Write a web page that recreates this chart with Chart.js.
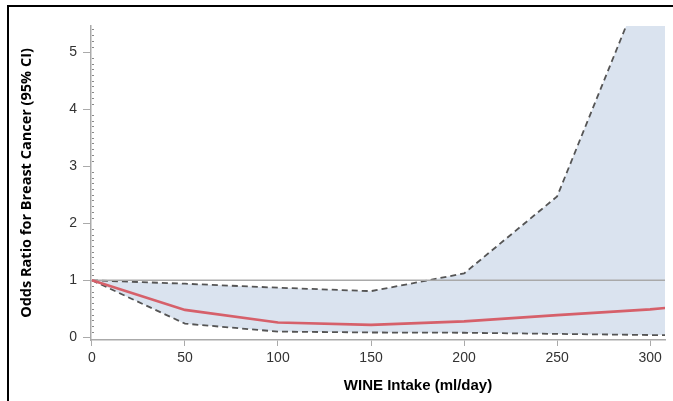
<!DOCTYPE html>
<html>
<head>
<meta charset="utf-8">
<script src="https://cdn.jsdelivr.net/npm/chart.js@4/dist/chart.umd.min.js"></script>
<style>
    html, body { margin: 0; padding: 0; background: #fff; }
    #wrap { position: relative; width: 673px; height: 401px; }
    #frame { position: absolute; left: 7px; top: 5px; right: 0; bottom: 0; border-top: 2px solid #000; border-left: 2px solid #000; pointer-events: none; }
    #xTitle { position: absolute; left: 318px; width: 200px; top: 376px; text-align: center; font: bold 15px "Liberation Sans", Arial, sans-serif; color: #000; }
</style>
</head>
<body>
<div id="wrap">
    <canvas id="chart" width="673" height="401"></canvas>
    <div id="frame"></div>
    <div id="xTitle">WINE Intake (ml/day)</div>
</div>
<script>
// wine intake (ml/day) and estimates
const wine = [0, 50, 100, 150, 200, 250, 300, 310];
const oddsRatio = [1, 0.48, 0.26, 0.22, 0.28, 0.39, 0.49, 0.52];
const lowerCI = [1, 0.24, 0.10, 0.085, 0.08, 0.06, 0.04, 0.04];
const upperCI = [1, 0.94, 0.87, 0.81, 1.12, 2.47, 6.5, 7.3];
const reference = [1, 1, 1, 1, 1, 1, 1, 1];

const xTicks = [0, 50, 100, 150, 200, 250, 300];
const yTicks = [0, 1, 2, 3, 4, 5];

const pts = arr => arr.map((v, i) => ({ x: wine[i], y: v }));

// small inner ticks every 0.1 on the y axis
const minorTicks = {
    id: 'minorTicks',
    afterDraw(chart) {
        const ctx = chart.ctx;
        const y = chart.scales.y;
        const left = chart.chartArea.left;
        ctx.save();
        ctx.strokeStyle = '#888';
        ctx.lineWidth = 1;
        for (let i = 0; i <= 54; i++) {
            if (i % 10 === 0) continue;
            const py = Math.round(y.getPixelForValue(i / 10)) + 0.5;
            ctx.beginPath();
            ctx.moveTo(left + 1, py);
            ctx.lineTo(left + 3, py);
            ctx.stroke();
        }
        ctx.restore();
    }
};

new Chart(document.getElementById('chart'), {
    type: 'line',
    data: {
        datasets: [
            {
                label: 'Upper 95% CI',
                data: pts(upperCI),
                borderColor: '#555',
                borderWidth: 1.8,
                borderDash: [6, 4],
                backgroundColor: '#dae3ef',
                fill: '+1',
                pointRadius: 0,
                order: 3
            },
            {
                label: 'Lower 95% CI',
                data: pts(lowerCI),
                borderColor: '#555',
                borderWidth: 1.8,
                borderDash: [6, 4],
                fill: false,
                pointRadius: 0,
                order: 3
            },
            {
                label: 'Reference',
                data: pts(reference),
                borderColor: '#a9a9a9',
                borderWidth: 1.5,
                fill: false,
                pointRadius: 0,
                order: 2
            },
            {
                label: 'Odds Ratio',
                data: pts(oddsRatio),
                borderColor: '#d6606a',
                borderWidth: 2.7,
                fill: false,
                pointRadius: 0,
                order: 1
            }
        ]
    },
    options: {
        responsive: false,
        animation: false,
        layout: { padding: { top: 26, right: 8, left: 0, bottom: 0 } },
        plugins: {
            legend: { display: false },
            tooltip: { enabled: false },
            filler: { drawTime: 'beforeDatasetsDraw' }
        },
        scales: {
            x: {
                type: 'linear',
                min: -0.5,
                max: 308,
                afterFit: s => { s.height = 61; },
                afterBuildTicks: s => { s.ticks = xTicks.map(v => ({ value: v })); },
                grid: { drawOnChartArea: false, drawTicks: true, tickLength: 6, color: '#aaa' },
                border: { display: true, color: '#aaa', width: 1.5 },
                ticks: { color: '#333', padding: 4, font: { family: 'Liberation Sans', size: 14 } }
            },
            y: {
                min: -0.047,
                max: 5.46,
                afterFit: s => { s.width = 91; },
                afterBuildTicks: s => { s.ticks = yTicks.map(v => ({ value: v })); },
                grid: { drawOnChartArea: false, drawTicks: true, tickLength: 8, color: '#aaa' },
                border: { display: true, color: '#aaa', width: 1.5 },
                ticks: { color: '#333', padding: 6, font: { family: 'Liberation Sans', size: 14 } },
                title: {
                    display: true,
                    text: 'Odds Ratio for Breast Cancer (95% CI)',
                    color: '#000',
                    padding: { top: 18, bottom: 0 },
                    font: { family: 'Open Sans', weight: 'bold', size: 14.5 }
                }
            }
        }
    },
    plugins: [minorTicks]
});
</script>
</body>
</html>
